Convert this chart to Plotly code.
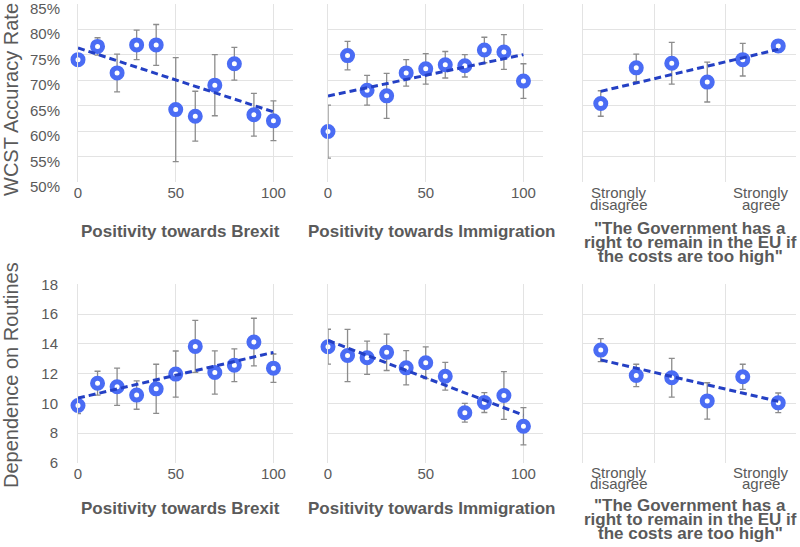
import numpy as np
import plotly.graph_objects as go

# x values
pct = [0, 10, 20, 30, 40, 50, 60, 70, 80, 90, 100]
likert = [1, 2, 3, 4, 5, 6]
likert_label_pos = [1.5, 5.5]
likert_labels = [["Strongly", "disagree"], ["Strongly", "agree"]]

# WCST accuracy (%)
brexit_acc = [74.0, 76.6, 71.4, 76.9, 76.9, 64.2, 62.9, 69.0, 73.2, 63.2, 62.0]
brexit_acc_err = [0.5, 1.7, 3.7, 2.9, 4.0, 10.2, 4.9, 6.0, 3.2, 4.2, 3.9]
immig_acc = [59.9, 74.8, 68.0, 66.9, 71.4, 72.2, 73.0, 72.8, 75.9, 75.5, 69.8]
immig_acc_err = [5.2, 2.8, 2.9, 4.4, 2.6, 3.0, 2.6, 2.2, 2.5, 3.4, 3.4]
gov_acc = [65.4, 72.4, 73.3, 69.6, 74.0, 76.7]
gov_acc_err = [2.5, 2.7, 4.1, 3.9, 3.2, 1.2]
acc_ticks = [50, 55, 60, 65, 70, 75, 80, 85]

# dependence on routines
brexit_rout = [9.86, 11.36, 11.12, 10.56, 10.98, 11.97, 13.83, 12.08, 12.57, 14.12, 12.37]
brexit_rout_err = [0.55, 0.8, 1.25, 0.95, 1.65, 1.55, 1.75, 1.45, 1.1, 1.6, 0.95]
immig_rout = [13.81, 13.22, 13.07, 13.43, 12.39, 12.73, 11.83, 9.37, 10.06, 10.53, 8.47]
immig_rout_err = [1.17, 1.75, 1.12, 1.22, 1.15, 1.07, 0.93, 0.63, 0.67, 1.6, 1.25]
gov_rout = [13.58, 11.88, 11.72, 10.17, 11.79, 10.04]
gov_rout_err = [0.77, 0.75, 1.3, 1.22, 0.84, 0.66]
rout_ticks = [6, 8, 10, 12, 14, 16, 18]

x_titles = [["Positivity towards Brexit"], ["Positivity towards Immigration"],
            ["\"The Government has a", "right to remain in the EU if",
             "the costs are too high\""]]
y_titles = ["WCST Accuracy Rate", "Dependence on Routines"]

panels = [
    (pct, brexit_acc, brexit_acc_err),
    (pct, immig_acc, immig_acc_err),
    (likert, gov_acc, gov_acc_err),
    (pct, brexit_rout, brexit_rout_err),
    (pct, immig_rout, immig_rout_err),
    (likert, gov_rout, gov_rout_err),
]

W, H = 800, 547
col_px = [(78, 293), (328, 543), (583, 796)]
row_px = [(3.5, 182), (284, 463)]
title_cx = [180, 432, 690]
title_y1 = [232, 508]      # single line titles
quote_y = [[228, 242, 256], [505, 519, 533]]
tick2_y = [[193, 204], [472, 483]]
ytitle = [(11, 100), (11, 375)]

FONT = "Liberation Sans, Arial, sans-serif"
TXT = "#5a5a5a"
GRID = "#e3e3e3"
BLUE = "#4a6cf4"
TREND = "#2440c4"

fig = go.Figure()
layout = {}
annotations = []
for i, (xs, ys, err) in enumerate(panels):
    r, c = divmod(i, 3)
    n = i + 1
    xa = "x" if n == 1 else f"x{n}"
    ya = "y" if n == 1 else f"y{n}"

    fig.add_trace(go.Scatter(
        x=xs, y=ys, mode="markers", xaxis=xa, yaxis=ya,
        marker=dict(size=10, color="white", line=dict(color=BLUE, width=5)),
        error_y=dict(type="data", array=err, color="#8c8c8c", thickness=1.3, width=3),
        showlegend=False, cliponaxis=False))

    k, b = np.polyfit(xs, ys, 1)
    tx = np.array([xs[0], xs[-1]], dtype=float)
    fig.add_trace(go.Scatter(
        x=tx, y=k * tx + b, mode="lines", xaxis=xa, yaxis=ya,
        line=dict(color=TREND, width=3, dash="7px,4px"),
        showlegend=False, hoverinfo="skip"))

    x0, x1 = col_px[c]
    y0, y1 = row_px[r]
    xd = dict(domain=[x0 / W, x1 / W], anchor=ya, showgrid=True, gridcolor=GRID,
              gridwidth=1, zeroline=False, ticks="", fixedrange=True, automargin=False,
              tickfont=dict(family=FONT, size=15, color=TXT))
    if c == 2:
        xd.update(range=[0.5, 6.5], tickmode="array", tickvals=[2.5, 4.5],
                  showticklabels=False)
        for pos, lines in zip(likert_label_pos, likert_labels):
            for txt, py in zip(lines, tick2_y[r]):
                annotations.append(dict(
                    text=txt, xref=xa, yref="paper", x=pos, y=1 - py / H,
                    xanchor="center", yanchor="middle", showarrow=False,
                    font=dict(family=FONT, size=15, color=TXT)))
    else:
        xd.update(range=[0, 110], tickmode="array", tickvals=[0, 50, 100])
    layout["xaxis" if n == 1 else f"xaxis{n}"] = xd

    yd = dict(domain=[1 - y1 / H, 1 - y0 / H], anchor=xa, showgrid=True,
              gridcolor=GRID, gridwidth=1, zeroline=False, ticks="",
              showline=True, linecolor=GRID, linewidth=1, fixedrange=True,
              showticklabels=(c == 0), automargin=False, tickmode="array",
              ticklabeloverflow="allow",
              tickfont=dict(family=FONT, size=15, color=TXT))
    if r == 0:
        yd.update(range=[50, 85.02], tickvals=acc_ticks,
                  ticktext=[f"{t}%" for t in acc_ticks],
                  ticklabelstandoff=14, ticklabelshift=5)
    else:
        yd.update(range=[6, 18.02], tickvals=rout_ticks, ticklabelstandoff=16)
    layout["yaxis" if n == 1 else f"yaxis{n}"] = yd

    lines = x_titles[c]
    ys_px = [title_y1[r]] if len(lines) == 1 else quote_y[r]
    for txt, py in zip(lines, ys_px):
        annotations.append(dict(
            text=f"<b>{txt}</b>", xref="paper", yref="paper",
            x=title_cx[c] / W, y=1 - py / H, xanchor="center", yanchor="middle",
            showarrow=False, font=dict(family=FONT, size=17, color=TXT)))

for r in range(2):
    annotations.append(dict(
        text=y_titles[r], xref="paper", yref="paper", textangle=-90,
        x=ytitle[r][0] / W, y=1 - ytitle[r][1] / H, xanchor="center", yanchor="middle",
        showarrow=False, font=dict(family=FONT, size=20, color=TXT)))

fig.update_layout(
    width=W, height=H,
    margin=dict(l=0, r=0, t=0, b=0),
    plot_bgcolor="white", paper_bgcolor="white",
    annotations=annotations,
    **layout)

# drop the browser's default body margin so the chart sits at the page corner
fig.write_html("out.html", config={"displayModeBar": False},
               post_script="document.body.style.margin='0';")
